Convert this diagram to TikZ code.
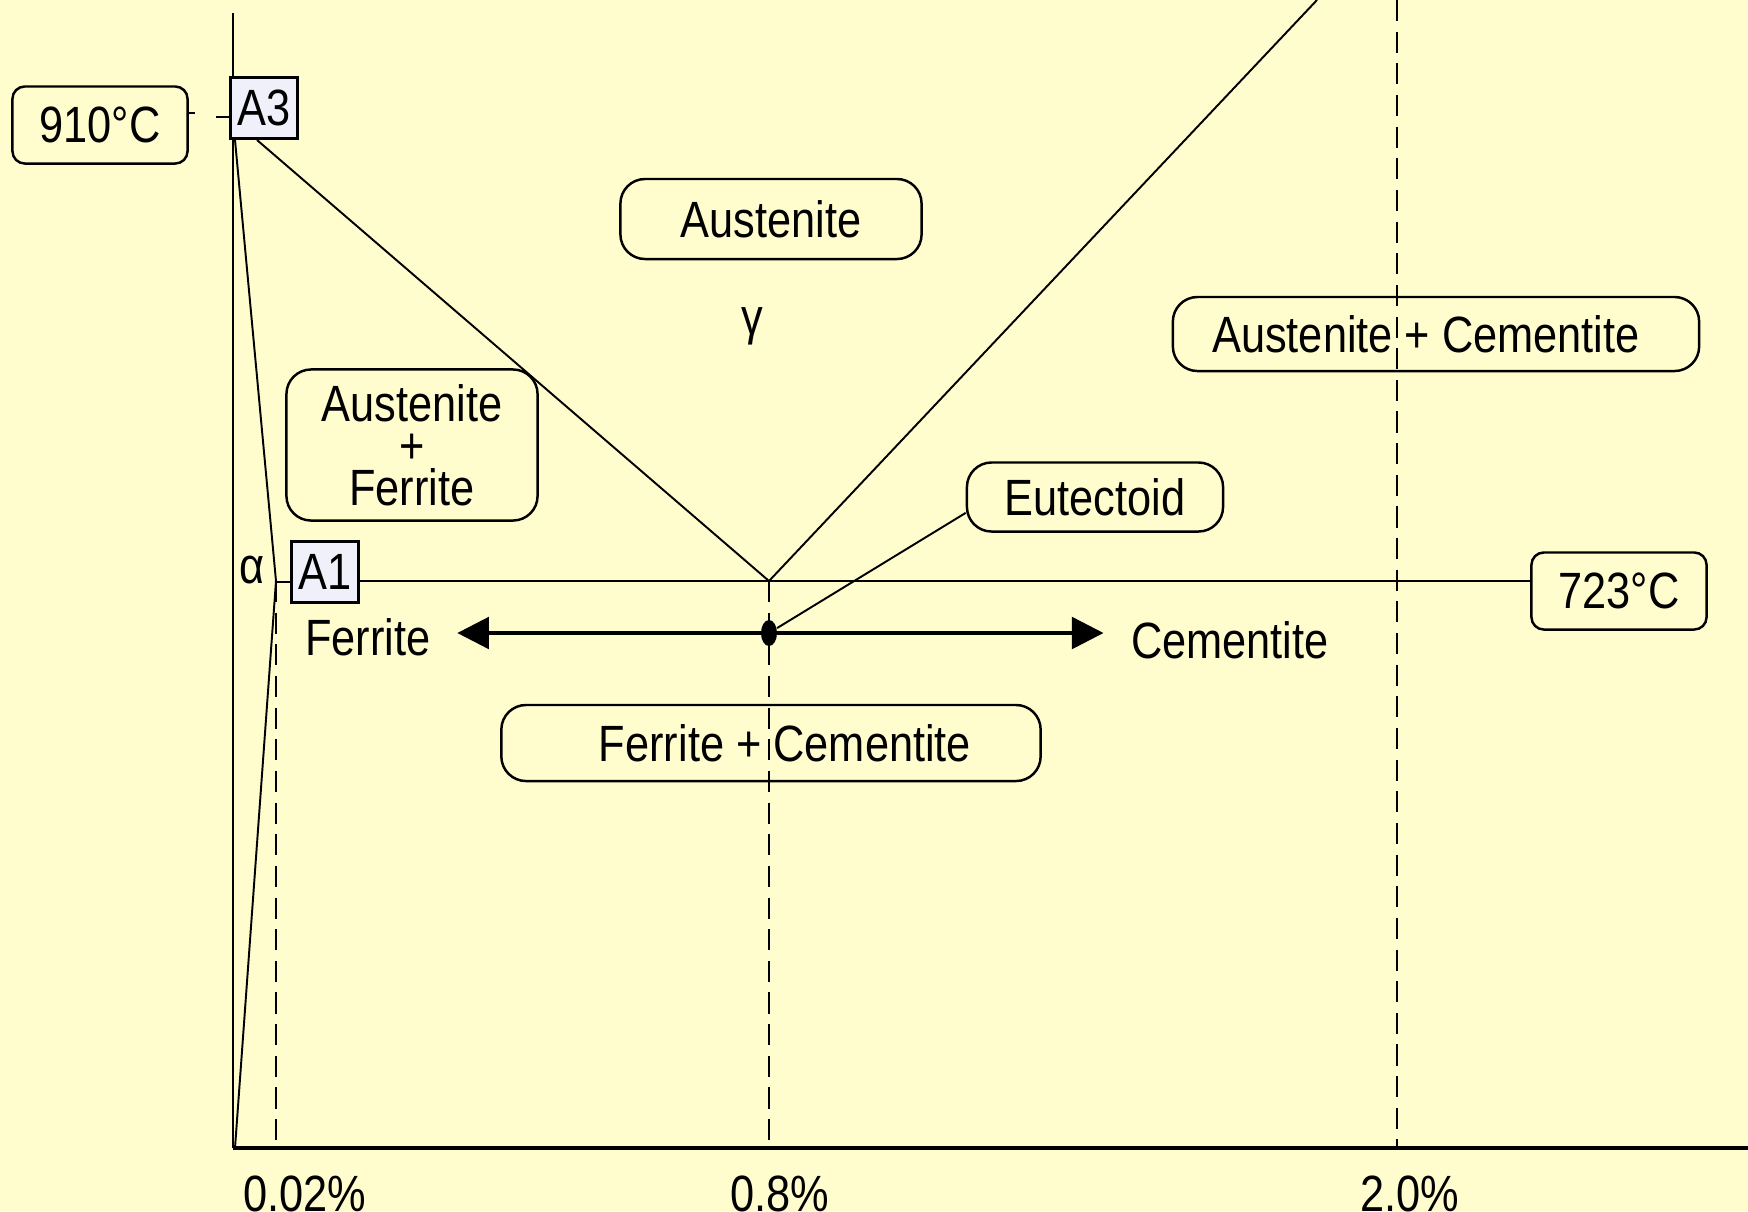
\documentclass[tikz,border=0pt]{standalone}
\usepackage{fontspec}
\setmainfont{Liberation Sans}[FakeStretch=0.85]
\usetikzlibrary{arrows.meta,shapes.geometric}
\definecolor{bgyellow}{RGB}{255,253,206}
\definecolor{tagfill}{RGB}{240,240,250}

\begin{document}
\begin{tikzpicture}[
        x=0.01cm, y=-0.01cm,
        >={Triangle[length=9pt,width=9pt]}, % 箭头样式
        every node/.style={font=\fontsize{14.5}{12}\selectfont},
        region/.style={draw, rounded corners=7pt, line width=0.7pt, inner sep=0pt, align=center}, % 相区框
        temp/.style={draw, rounded corners=3.5pt, line width=0.7pt, inner sep=0pt, minimum width=1.75cm, minimum height=0.77cm}, % 温度框
        tag/.style={draw, fill=tagfill, line width=0.8pt, inner sep=0pt, minimum width=0.67cm, minimum height=0.61cm},
        phase/.style={line width=0.55pt},
        guide/.style={line width=0.6pt, dash pattern=on 6pt off 3pt}
    ]
    % 背景
    \fill[bgyellow] (0,0) rectangle (1748,1211);
    \useasboundingbox (0,0) rectangle (1748,1211);
    \clip (0,0) rectangle (1748,1211);

    % 坐标轴
    \coordinate (O) at (233,1148);
    \draw[line width=0.6pt] (233,13) -- (O);
    \draw[line width=1pt] (O) -- (1748,1148);

    % 相界线
    \coordinate (pA3) at (235,140);
    \coordinate (pA3b) at (257,140);
    \coordinate (pa) at (276,581);
    \coordinate (E) at (769,581);
    \coordinate (acm) at (1317,0);
    \draw[phase] (pA3) -- (pa) -- (235,1148);
    \draw[phase] (pA3b) -- (E) -- (acm);

    % 虚线
    \draw[guide] (pa) -- (pa |- O);
    \draw[guide] (E) -- (E |- O);
    \draw[guide] (1397,0) -- (1397,1148);

    % 温度与标记
    \node[temp] (t910) at (100,125) {910°C};
    \node[tag] (A3) at (264,108) {A3};
    \draw[phase] (t910.east) ++(0,-12) -- ++(6,0);
    \draw[phase] (A3.west) ++(0,9) -- ++(-13,0);
    \node[tag] (A1) at (325,572) {A1};
    \node (alp) at (252,570) {α};
    \draw[phase] (A1.west) ++(0,10) -- ++(-15,0);
    \node[temp] (t723) at (1619,591) {723°C};
    \draw[phase] (A1.east |- E) -- (t723.west |- E);

    % 相区
    \node[region, minimum width=3.01cm, minimum height=0.80cm] (aus) at (771,219) {Austenite};
    \node (gam) at (752,326) {γ};
    \node[region, minimum width=2.51cm, minimum height=1.51cm] (ausfer) at (412,445) {\rule{0pt}{0.3cm}Austenite\\+\\Ferrite};
    \node[region, minimum width=5.26cm, minimum height=0.74cm] (auscem) at (1436,334) {Austenite + Cementite\hspace{0.2cm}};
    \node[region, minimum width=2.56cm, minimum height=0.69cm] (eut) at (1095,497) {Eutectoid};
    \node[region, minimum width=5.39cm, minimum height=0.76cm] (fercem) at (771,743) {\hspace{0.28cm}Ferrite + Cementite};

    % 共析点与箭头
    \coordinate (dotc) at (769,633);
    \node[inner sep=0pt] (fer) at (368,637) {Ferrite};
    \node[inner sep=0pt] (cem) at (1230,640) {Cementite};
    \draw[<->, line width=1pt, shorten <=0.26cm, shorten >=0.27cm] (fer.east |- dotc) -- (cem.west |- dotc);
    \node[ellipse, fill, inner sep=0pt, minimum width=0.16cm, minimum height=0.26cm] (dot) at (dotc) {};
    \draw[phase] (dot) -- (eut.187);

    % 成分
    \node[anchor=base] (c002) at (305,1211) {0.02\%};
    \node[anchor=base] (c08) at (780,1211) {0.8\%};
    \node[anchor=base] (c20) at (1410,1211) {2.0\%};
\end{tikzpicture}
\end{document}
